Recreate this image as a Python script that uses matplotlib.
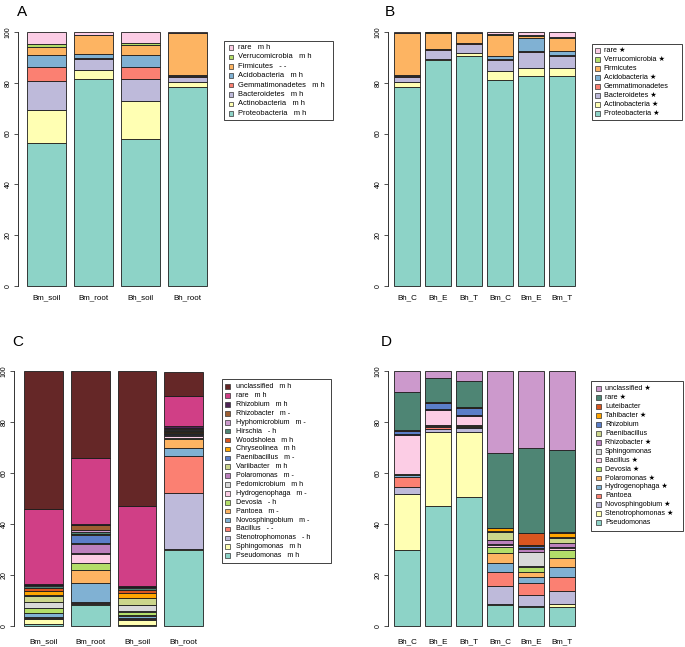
import matplotlib
matplotlib.use('Agg')
import matplotlib.pyplot as plt
from matplotlib.patches import Rectangle
import numpy as np

W, H = 685, 647
plt.rcParams['font.family'] = ['Liberation Sans', 'DejaVu Sans']

# colour palette (bottom of stack first)
pal = ['#8DD3C7', '#FFFFB3', '#BEBADA', '#FB8072', '#80B1D3', '#FDB462', '#B3DE69',
       '#FCCDE5', '#D9D9D9', '#BC80BD', '#CCD68C', '#5B7EC8', '#FFA500', '#D95620',
       '#4E8574', '#CC99CC', '#9E5F32', '#4E2456', '#D03F86', '#652727']

# ---- panel A / B : phyla ----
phyla = ['Proteobacteria', 'Actinobacteria', 'Bacteroidetes', 'Gemmatimonadetes',
         'Acidobacteria', 'Firmicutes', 'Verrucomicrobia', 'rare']
sig_a = ['m h', 'm h', 'm h', 'm h', 'm h', '- -', 'm h', 'm h']
sig_b = ['★', '★', '★', '', '★', '', '★', '★']

samples_a = ['Bm_soil', 'Bm_root', 'Bh_soil', 'Bh_root']
a_bm_soil = [56.4, 12.8, 11.7, 5.5, 4.7, 3.0, 1.1, 4.8]
a_bm_root = [81.3, 3.9, 4.2, 0.5, 1.6, 7.2, 0.3, 1.0]
a_bh_soil = [57.7, 15.2, 8.5, 4.8, 4.9, 3.9, 0.7, 4.3]
a_bh_root = [78.4, 2.1, 1.8, 0.4, 0.5, 16.4, 0.2, 0.2]

samples_b = ['Bh_C', 'Bh_E', 'Bh_T', 'Bm_C', 'Bm_E', 'Bm_T']
b_bh_c = [78.4, 2.1, 1.8, 0.4, 0.5, 16.4, 0.2, 0.2]
b_bh_e = [88.9, 0.6, 3.6, 0.2, 0.2, 6.3, 0.1, 0.1]
b_bh_t = [90.6, 1.1, 3.7, 0.2, 0.2, 3.9, 0.1, 0.2]
b_bm_c = [81.0, 3.7, 4.4, 0.3, 1.3, 8.0, 0.4, 0.9]
b_bm_e = [82.7, 3.1, 6.3, 0.3, 5.2, 0.9, 0.4, 1.1]
b_bm_t = [82.7, 3.1, 4.8, 0.2, 1.6, 5.4, 0.3, 1.9]

# ---- panel C : genera ----
genera_c = ['Pseudomonas', 'Sphingomonas', 'Stenotrophomonas', 'Bacillus', 'Novosphingobium',
            'Pantoea', 'Devosia', 'Hydrogenophaga', 'Pedomicrobium', 'Polaromonas',
            'Variibacter', 'Paenibacillus', 'Chryseolinea', 'Woodsholea', 'Hirschia',
            'Hyphomicrobium', 'Rhizobacter', 'Rhizobium', 'rare', 'unclassified']
sig_c = ['m h', 'm h', '- h', '- -', 'm -', 'm -', '- h', 'm -', 'm h', 'm -',
         'm h', 'm -', 'm h', 'm h', '- h', 'm -', 'm -', 'm h', 'm h', 'm h']
c_bm_soil = [0.5, 2.1, 0.3, 0.4, 1.6, 0.1, 2.0, 0.1, 2.2, 0.1, 2.4, 0.1, 1.6, 1.3, 1.0, 0.1, 0.1, 0.2, 29.7, 54.1]
c_bm_root = [8.0, 0.4, 0.4, 0.6, 7.2, 5.2, 3.0, 3.5, 0.4, 3.5, 0.5, 2.9, 0.3, 0.3, 0.6, 0.9, 1.9, 0.5, 25.7, 34.2]
c_bh_soil = [0.3, 2.0, 0.3, 0.4, 0.9, 0.2, 1.3, 0.2, 2.4, 0.2, 2.6, 0.2, 1.7, 1.5, 0.8, 0.2, 0.2, 0.3, 31.5, 52.8]
c_bh_root = [29.8, 0.4, 21.8, 14.8, 2.9, 3.8, 0.3, 0.8, 0.3, 0.3, 0.3, 0.3, 0.3, 0.3, 0.5, 0.4, 0.5, 0.7, 11.9, 9.4]

# ---- panel D : genera ----
genera_d = ['Pseudomonas', 'Stenotrophomonas', 'Novosphingobium', 'Pantoea', 'Hydrogenophaga',
            'Polaromonas', 'Devosia', 'Bacillus', 'Sphingomonas', 'Rhizobacter',
            'Paenibacillus', 'Rhizobium', 'Tahibacter', 'Luteibacter', 'rare', 'unclassified']
sig_d = ['', '★', '★', '', '★', '★', '★', '★', '', '★', '', '', '★', '', '★', '★']
d_bh_c = [29.9, 21.9, 2.9, 3.8, 0.7, 0.2, 0.2, 15.2, 0.2, 0.2, 0.2, 1.0, 0.2, 0.2, 15.1, 8.1]
d_bh_e = [47.2, 28.8, 1.2, 1.0, 0.2, 0.3, 0.2, 5.9, 0.1, 0.1, 0.1, 2.4, 0.2, 0.1, 9.4, 2.8]
d_bh_t = [50.5, 25.8, 1.3, 0.3, 0.3, 0.3, 0.2, 3.7, 0.2, 0.2, 0.2, 2.4, 0.2, 0.2, 10.5, 3.7]
d_bm_c = [8.1, 0.6, 7.0, 5.5, 3.6, 3.6, 2.7, 0.6, 0.5, 1.6, 3.0, 0.5, 1.0, 0.3, 29.2, 32.2]
d_bm_e = [7.2, 0.5, 4.2, 4.7, 2.4, 2.0, 2.2, 0.3, 5.3, 1.3, 0.6, 0.6, 0.6, 4.4, 33.6, 30.1]
d_bm_t = [7.5, 1.0, 5.3, 5.5, 3.6, 3.6, 3.3, 0.6, 0.4, 1.8, 1.7, 0.6, 1.7, 0.3, 32.2, 30.9]

fig = plt.figure(figsize=(W / 100, H / 100), dpi=100)
EDGE = '#1c1c1c'


def panel(l, t, r, b, xlim, samples, table, xpad):
    ax = fig.add_axes([l / W, 1 - b / H, (r - l) / W, (b - t) / H])
    data = np.array(table).T          # rows = taxa, cols = samples
    x = np.arange(len(samples)) * 1.2
    bottom = np.zeros(len(samples))
    for i, vals in enumerate(data):
        ax.bar(x, vals, bottom=bottom, width=1, color=pal[i], edgecolor=EDGE,
               linewidth=0.6, clip_on=False)
        bottom += vals
    ax.set_xlim(*xlim)
    ax.set_ylim(0, 100)
    for s in ['top', 'right', 'bottom']:
        ax.spines[s].set_visible(False)
    ax.spines['left'].set_color('#333333')
    ax.spines['left'].set_linewidth(0.7)
    ax.set_yticks([0, 20, 40, 60, 80, 100])
    ax.set_yticklabels(['0', '20', '40', '60', '80', '100'], rotation=90, va='center')
    ax.tick_params(axis='y', length=3, width=0.6, color='#333333', labelsize=5.0, pad=1.5)
    ax.set_xticks(x)
    ax.set_xticklabels(samples)
    ax.tick_params(axis='x', length=0, labelsize=5.8, pad=xpad)
    return ax


def legend_box(x0, y0, x1, y1, names, sigs, first, dy, xsq, xtxt, fs, gap='   '):
    fig.patches.append(Rectangle((x0 / W, 1 - y1 / H), (x1 - x0) / W, (y1 - y0) / H,
                                 transform=fig.transFigure, fill=False, ec='#222222', lw=0.6))
    n = len(names)
    for k in range(n):
        i = n - 1 - k          # top of the stack first
        y = first + k * dy
        s = 4.6
        fig.patches.append(Rectangle(((xsq - s / 2) / W, 1 - (y + s / 2) / H), s / W, s / H,
                                     transform=fig.transFigure, fc=pal[i], ec='#333333', lw=0.5))
        lab = names[i] + (gap + sigs[i] if sigs[i] else '')
        fig.text(xtxt / W, 1 - y / H, lab, fontsize=fs, va='center', ha='left')


# A
panel(18, 32, 216, 286, (-0.73, 4.33), samples_a,
      [a_bm_soil, a_bm_root, a_bh_soil, a_bh_root], 6.0)
legend_box(224, 41, 333, 120, phyla, sig_a, 47.5, 9.4, 231, 237.5, 5.4)
fig.text(22 / W, 1 - 12 / H, 'A', fontsize=11, ha='center', va='center')

# B
panel(387.7, 32, 581, 286, (-0.744, 6.73), samples_b,
      [b_bh_c, b_bh_e, b_bh_t, b_bm_c, b_bm_e, b_bm_t], 6.0)
legend_box(592, 44, 682, 120, phyla, sig_b, 50.5, 9.0, 597.5, 603.5, 5.2, gap=' ')
fig.text(390 / W, 1 - 12 / H, 'B', fontsize=11, ha='center', va='center')

# C
panel(14, 371.3, 212, 625.7, (-0.763, 4.33), samples_a,
      [c_bm_soil, c_bm_root, c_bh_soil, c_bh_root], 9.0)
legend_box(222, 379, 331, 563, genera_c, sig_c, 386.7, 8.89, 227.5, 236, 5.1)
fig.text(18 / W, 1 - 342 / H, 'C', fontsize=11, ha='center', va='center')

# D
panel(387.7, 371.3, 581, 625.7, (-0.744, 6.73), samples_b,
      [d_bh_c, d_bh_e, d_bh_t, d_bm_c, d_bm_e, d_bm_t], 9.0)
legend_box(591, 381, 683, 531, genera_d, sig_d, 388.7, 8.93, 598.3, 605, 5.1, gap=' ')
fig.text(386 / W, 1 - 342 / H, 'D', fontsize=11, ha='center', va='center')

fig.savefig('out.png', dpi=100)
